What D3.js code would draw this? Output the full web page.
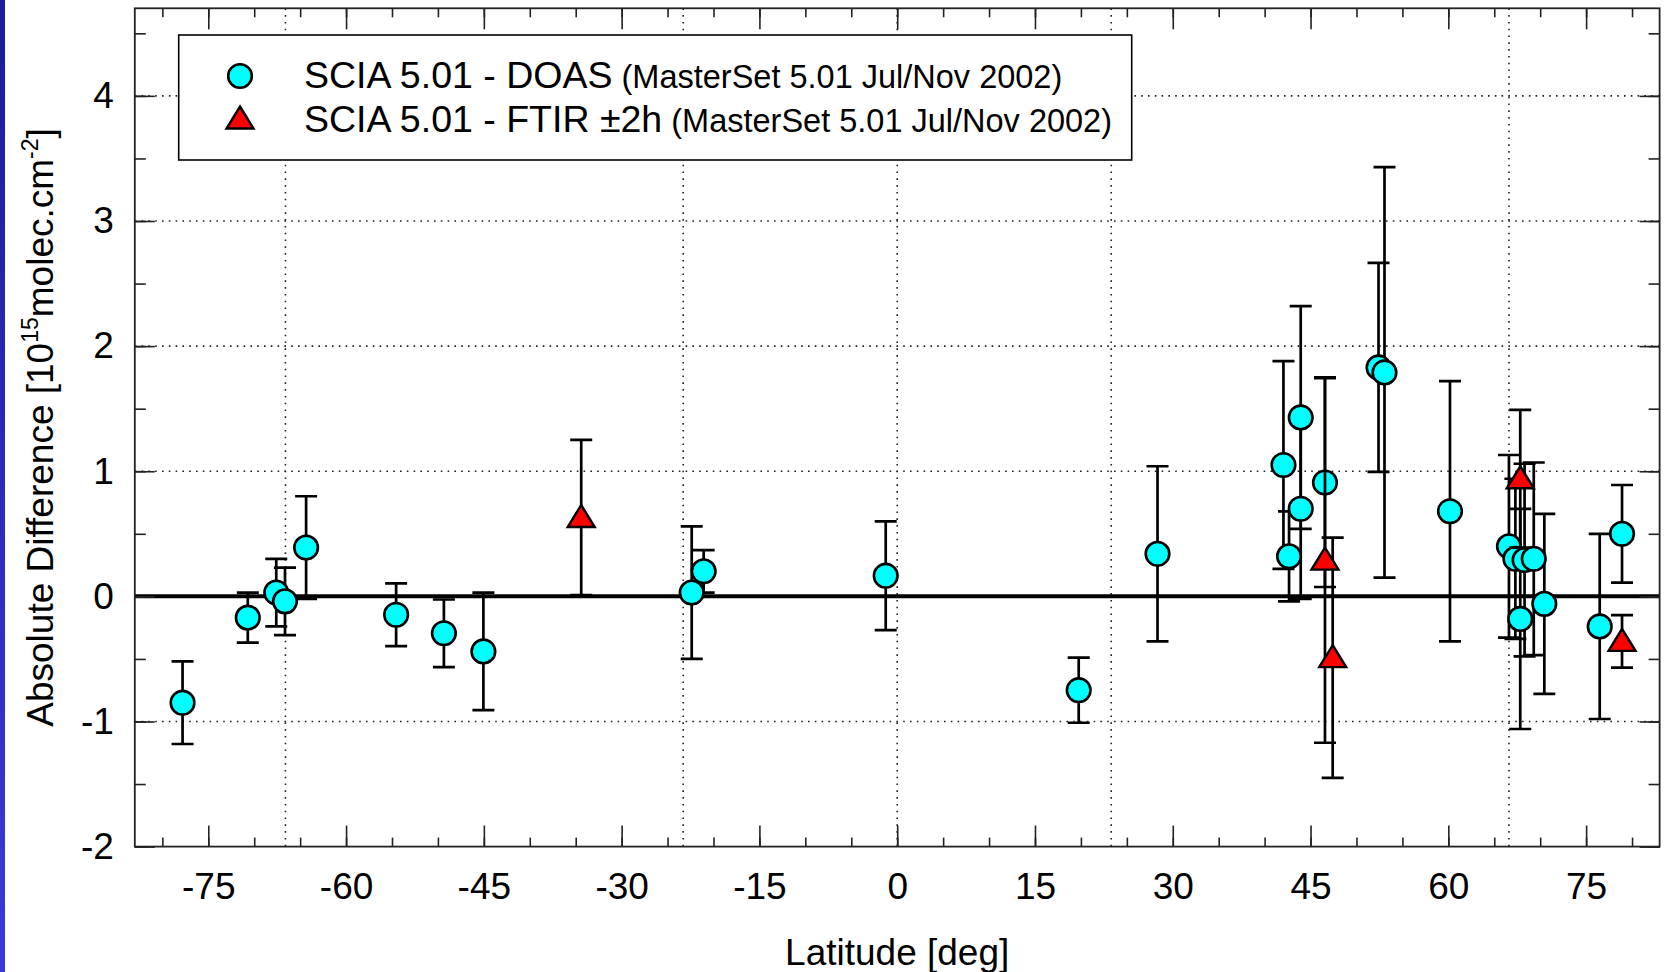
<!DOCTYPE html>
<html>
<head>
<meta charset="utf-8">
<script src="https://cdn.jsdelivr.net/npm/d3@7/dist/d3.min.js"></script>
<style>
  html, body { margin: 0; padding: 0; background: #fff; }
  svg { display: block; }
  text { font-family: "Liberation Sans", Arial, sans-serif; fill: #000; }
</style>
</head>
<body>
<svg id="chart" width="1665" height="972"></svg>
<script>
// ---------- data ----------
const doasLat  = [-77.8, -70.7, -67.6, -66.65, -64.35, -54.55, -49.35, -45.05, -22.37, -21.07, -1.25, 19.76, 28.34,
                  42.05, 42.66, 43.93, 43.93, 46.57, 52.4, 53.05, 60.18, 66.6, 67.3, 68.3, 69.3, 67.83, 70.45, 76.48, 78.91];
const doasDiff = [-0.85, -0.17, 0.03, -0.04, 0.39, -0.147, -0.295, -0.44, 0.03, 0.20, 0.165, -0.75, 0.34,
                  1.05, 0.32, 1.43, 0.70, 0.91, 1.83, 1.79, 0.68, 0.40, 0.30, 0.29, 0.30, -0.18, -0.06, -0.24, 0.50];
const doasErr  = [0.33, 0.20, 0.27, 0.27, 0.41, 0.25, 0.27, 0.47, 0.53, 0.17, 0.435, 0.26, 0.70,
                  0.83, 0.36, 0.89, 0.72, 0.835, 0.835, 1.64, 1.04, 0.73, 0.64, 0.77, 0.77, 0.88, 0.72, 0.74, 0.39];

const ftirLat  = [-34.4, 46.57, 47.41, 67.83, 78.91];
const ftirDiff = [0.63, 0.29, -0.49, 0.94, -0.36];
const ftirErr  = [0.62, 1.46, 0.96, 0.55, 0.21];

const xMajorTicks = [-75, -60, -45, -30, -15, 0, 15, 30, 45, 60, 75];
const xMinorTicks = d3.range(-80, 81, 5);
const yMajorTicks = [-2, -1, 0, 1, 2, 3, 4];
const yMinorTicks = d3.range(-2, 4.51, 0.5);
const xGridLines = [-66.6, -23.3, 0, 23.3, 66.6];
const yGridLines = [-1, 1, 2, 3, 4];

const xDomain = [-83, 83];
const yDomain = [-2, 4.7];

const legendLabels = [
  { main: "SCIA 5.01 - DOAS", sub: " (MasterSet 5.01 Jul/Nov 2002)", shape: "circle" },
  { main: "SCIA 5.01 - FTIR \u00B12h", sub: " (MasterSet 5.01 Jul/Nov 2002)", shape: "triangle" }
];

// ---------- layout ----------
const svg = d3.select("#chart");
const L = 134.8, R = 1659.6, T = 8.3, B = 846.6;
const x = d3.scaleLinear().domain(xDomain).range([L, R]);
const y = d3.scaleLinear().domain(yDomain).range([B, T]);

// left blue strip
const defs = svg.append("defs");
const grad = defs.append("linearGradient").attr("id", "strip").attr("x1", 0).attr("y1", 0).attr("x2", 0).attr("y2", 1);
grad.append("stop").attr("offset", "0%").attr("stop-color", "#1c1c9e");
grad.append("stop").attr("offset", "100%").attr("stop-color", "#3a3ad8");
svg.append("rect").attr("x", 0).attr("y", 0).attr("width", 5).attr("height", 972).attr("fill", "url(#strip)");

// grid
const dot = { stroke: "#222", "stroke-width": 1.6, "stroke-dasharray": "1.6 5.2" };
const grid = svg.append("g");
grid.selectAll("line.gx").data(xGridLines).join("line")
  .attr("x1", d => x(d)).attr("x2", d => x(d)).attr("y1", T).attr("y2", B)
  .attr("stroke", dot.stroke).attr("stroke-width", dot["stroke-width"]).attr("stroke-dasharray", dot["stroke-dasharray"]);
grid.selectAll("line.gy").data(yGridLines).join("line")
  .attr("x1", L).attr("x2", R).attr("y1", d => y(d)).attr("y2", d => y(d))
  .attr("stroke", dot.stroke).attr("stroke-width", dot["stroke-width"]).attr("stroke-dasharray", dot["stroke-dasharray"]);

// zero line
svg.append("line").attr("x1", L).attr("x2", R).attr("y1", y(0)).attr("y2", y(0))
  .attr("stroke", "#000").attr("stroke-width", 4);

// axes
function styleAxis(g) {
  g.select(".domain").remove();
  g.selectAll(".tick line").attr("stroke", "#222").attr("stroke-width", 1.6);
  g.selectAll(".tick text").style("font-size", "37px").attr("fill", "#000");
}
svg.append("g").attr("transform", `translate(0,${B})`)
  .call(d3.axisBottom(x).tickValues(xMinorTicks).tickSize(-9).tickFormat("")).call(styleAxis);
svg.append("g").attr("transform", `translate(0,${T})`)
  .call(d3.axisTop(x).tickValues(xMinorTicks).tickSize(-9).tickFormat("")).call(styleAxis);
svg.append("g").attr("transform", `translate(0,${B})`)
  .call(d3.axisBottom(x).tickValues(xMajorTicks).tickSize(-21).tickPadding(26).tickFormat(d3.format("d"))).call(styleAxis);
svg.append("g").attr("transform", `translate(0,${T})`)
  .call(d3.axisTop(x).tickValues(xMajorTicks).tickSize(-21).tickFormat("")).call(styleAxis);

svg.append("g").attr("transform", `translate(${L},0)`)
  .call(d3.axisLeft(y).tickValues(yMinorTicks).tickSize(-11).tickFormat("")).call(styleAxis);
svg.append("g").attr("transform", `translate(${R},0)`)
  .call(d3.axisRight(y).tickValues(yMinorTicks).tickSize(-11).tickFormat("")).call(styleAxis);
svg.append("g").attr("transform", `translate(${L},0)`)
  .call(d3.axisLeft(y).tickValues(yMajorTicks).tickSize(-20).tickPadding(21).tickFormat(d3.format("d"))).call(styleAxis);
svg.append("g").attr("transform", `translate(${R},0)`)
  .call(d3.axisRight(y).tickValues(yMajorTicks).tickSize(-20).tickFormat("")).call(styleAxis);

// replace the unicode minus with hyphen as in the reference
svg.selectAll(".tick text").text(function () { return d3.select(this).text().replace("\u2212", "-"); });

// frame
svg.append("rect").attr("x", L).attr("y", T).attr("width", R - L).attr("height", B - T)
  .attr("fill", "none").attr("stroke", "#222").attr("stroke-width", 1.8);

// axis titles
svg.append("text").attr("x", (L + R) / 2).attr("y", 965).attr("text-anchor", "middle")
  .style("font-size", "37px").text("Latitude [deg]");

const yt = svg.append("text").attr("transform", `translate(53,${(T + B) / 2}) rotate(-90)`)
  .attr("text-anchor", "middle").style("font-size", "37px");
yt.append("tspan").text("Absolute Difference [10");
yt.append("tspan").attr("dy", -15).style("font-size", "23px").text("15");
yt.append("tspan").attr("dy", 15).text("molec.cm");
yt.append("tspan").attr("dy", -15).style("font-size", "23px").text("-2");
yt.append("tspan").attr("dy", 15).text("]");

// data helpers
const doas = doasLat.map((d, i) => ({ lat: d, v: doasDiff[i], e: doasErr[i] }));
const ftir = ftirLat.map((d, i) => ({ lat: d, v: ftirDiff[i], e: ftirErr[i] }));
const CAP = 11;

function errorBars(data) {
  const g = svg.append("g").attr("stroke", "#000").attr("stroke-width", 2.7).attr("fill", "none");
  g.selectAll("path").data(data).join("path")
    .attr("d", d => {
      const cx = x(d.lat), y1 = y(d.v + d.e), y2 = y(d.v - d.e);
      return `M${cx},${y1}V${y2}M${cx - CAP},${y1}H${cx + CAP}M${cx - CAP},${y2}H${cx + CAP}`;
    });
}
const triPath = "M0,-12.5L13.5,9.5L-13.5,9.5Z";

errorBars(doas);
svg.append("g").selectAll("circle").data(doas).join("circle")
  .attr("cx", d => x(d.lat)).attr("cy", d => y(d.v)).attr("r", 11.8)
  .attr("fill", "#00ffff").attr("stroke", "#000").attr("stroke-width", 2.6);

errorBars(ftir);
svg.append("g").selectAll("path").data(ftir).join("path")
  .attr("transform", d => `translate(${x(d.lat)},${y(d.v)})`).attr("d", triPath)
  .attr("fill", "#ff0000").attr("stroke", "#000").attr("stroke-width", 2.4).attr("stroke-linejoin", "miter");

// legend
const lg = svg.append("g");
lg.append("rect").attr("x", 178.7).attr("y", 35).attr("width", 953).attr("height", 125)
  .attr("fill", "#fff").attr("stroke", "#000").attr("stroke-width", 1.6);
const rows = lg.selectAll("g.row").data(legendLabels).join("g")
  .attr("transform", (d, i) => `translate(0,${i * 44})`);
rows.each(function (d) {
  const r = d3.select(this);
  if (d.shape === "circle") {
    r.append("circle").attr("cx", 240).attr("cy", 76).attr("r", 11.8)
      .attr("fill", "#00ffff").attr("stroke", "#000").attr("stroke-width", 2.6);
  } else {
    r.append("path").attr("transform", "translate(240,75)").attr("d", triPath)
      .attr("fill", "#ff0000").attr("stroke", "#000").attr("stroke-width", 2.4);
  }
  const t = r.append("text").attr("x", 304).attr("y", 88).style("font-size", "37.5px");
  t.append("tspan").text(d.main);
  t.append("tspan").style("font-size", "32.5px").text(d.sub);
});
</script>
</body>
</html>
